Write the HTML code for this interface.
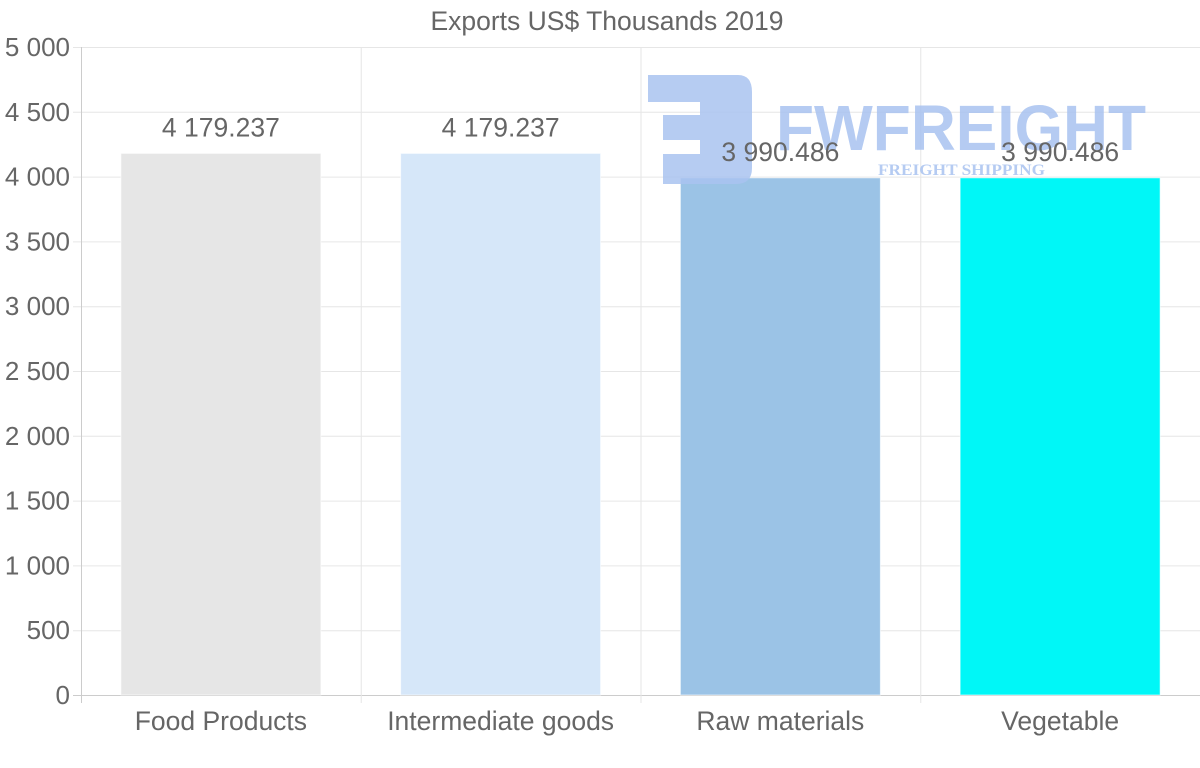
<!DOCTYPE html>
<html><head><meta charset="utf-8"><style>
body{margin:0;background:#fff;}
svg text{font-family:"Liberation Sans",sans-serif;}
</style></head><body>
<svg width="1200" height="763" viewBox="0 0 1200 763">
<text x="607" y="30" text-anchor="middle" font-size="26.5" fill="#666">Exports US$ Thousands 2019</text>
<g id="grid"></g>
<g id="yt"></g>
<g id="xt"></g>
<g id="bars"></g>
<g opacity="0.85">
<path d="M648,75 H738 Q752,75 752,92 V168 Q752,184 736,184 H663 V154 H700 V140 H663 V115 H700 V102 H648 Z" fill="#a9c3f0"/>
<text x="776" y="150" font-size="64" font-weight="bold" fill="#a9c3f0" textLength="370" lengthAdjust="spacingAndGlyphs">FWFREIGHT</text>
<text x="878" y="175" font-size="16" font-weight="bold" fill="#a9c3f0" style="font-family:'Liberation Serif',serif" textLength="167" lengthAdjust="spacingAndGlyphs">FREIGHT SHIPPING</text>
</g>
<g id="labels"></g>
</svg>
<script>
const categories=["Food Products","Intermediate goods","Raw materials","Vegetable"];
const values=[4179.237,4179.237,3990.486,3990.486];
const valueLabels=["4 179.237","4 179.237","3 990.486","3 990.486"];
const colors=["#e6e6e6","#d6e7f9","#9bc3e6","#00f7f7"];
const yTicks=[0,500,1000,1500,2000,2500,3000,3500,4000,4500,5000];
const yTickLabels=["0","500","1 000","1 500","2 000","2 500","3 000","3 500","4 000","4 500","5 000"];
const NS="http://www.w3.org/2000/svg";
const L=81,R=1200,T=47,B=695,yMax=5000;
const y=v=>B-(v/yMax)*(B-T);
const bw=(R-L)/categories.length;
const x=i=>L+i*bw;
function mk(tag,attrs,parent,txt){const e=document.createElementNS(NS,tag);for(const k in attrs)e.setAttribute(k,attrs[k]);if(txt!==undefined)e.textContent=txt;parent.appendChild(e);return e;}
const grid=document.getElementById('grid'),yt=document.getElementById('yt'),xt=document.getElementById('xt'),bars=document.getElementById('bars'),labels=document.getElementById('labels');
yTicks.forEach((t,i)=>{
 const l=mk('line',{x1:L-8,x2:R,y1:y(t)+0.5,y2:y(t)+0.5,stroke:i==0?'#ccc':'#e6e6e6'},grid);
 
 
 const tx=mk('text',{x:70,y:y(t)+9,'text-anchor':'end','font-size':26,fill:'#666'},yt,yTickLabels[i]);
 
 
});
for(let i=0;i<=categories.length;i++){
 const l=mk('line',{x1:x(i)+0.5,x2:x(i)+0.5,y1:T,y2:B+8,stroke:i==0?'#ccc':'#e6e6e6'},grid);
 
 
}
categories.forEach((c,i)=>{
 const cx=x(i)+bw/2;
 const r=mk('rect',{x:cx-100,y:y(values[i]),width:200,height:B-y(values[i]),fill:colors[i],stroke:'rgba(255,255,255,0.6)'},bars);
 
 
 const t=mk('text',{x:cx,y:730,'text-anchor':'middle','font-size':26.5,fill:'#666'},xt,c);
 
 
 const v=mk('text',{x:cx,y:y(values[i])-17,'text-anchor':'middle','font-size':26.5,fill:'#666'},labels,valueLabels[i]);
 
 
});
</script>
</body></html>
